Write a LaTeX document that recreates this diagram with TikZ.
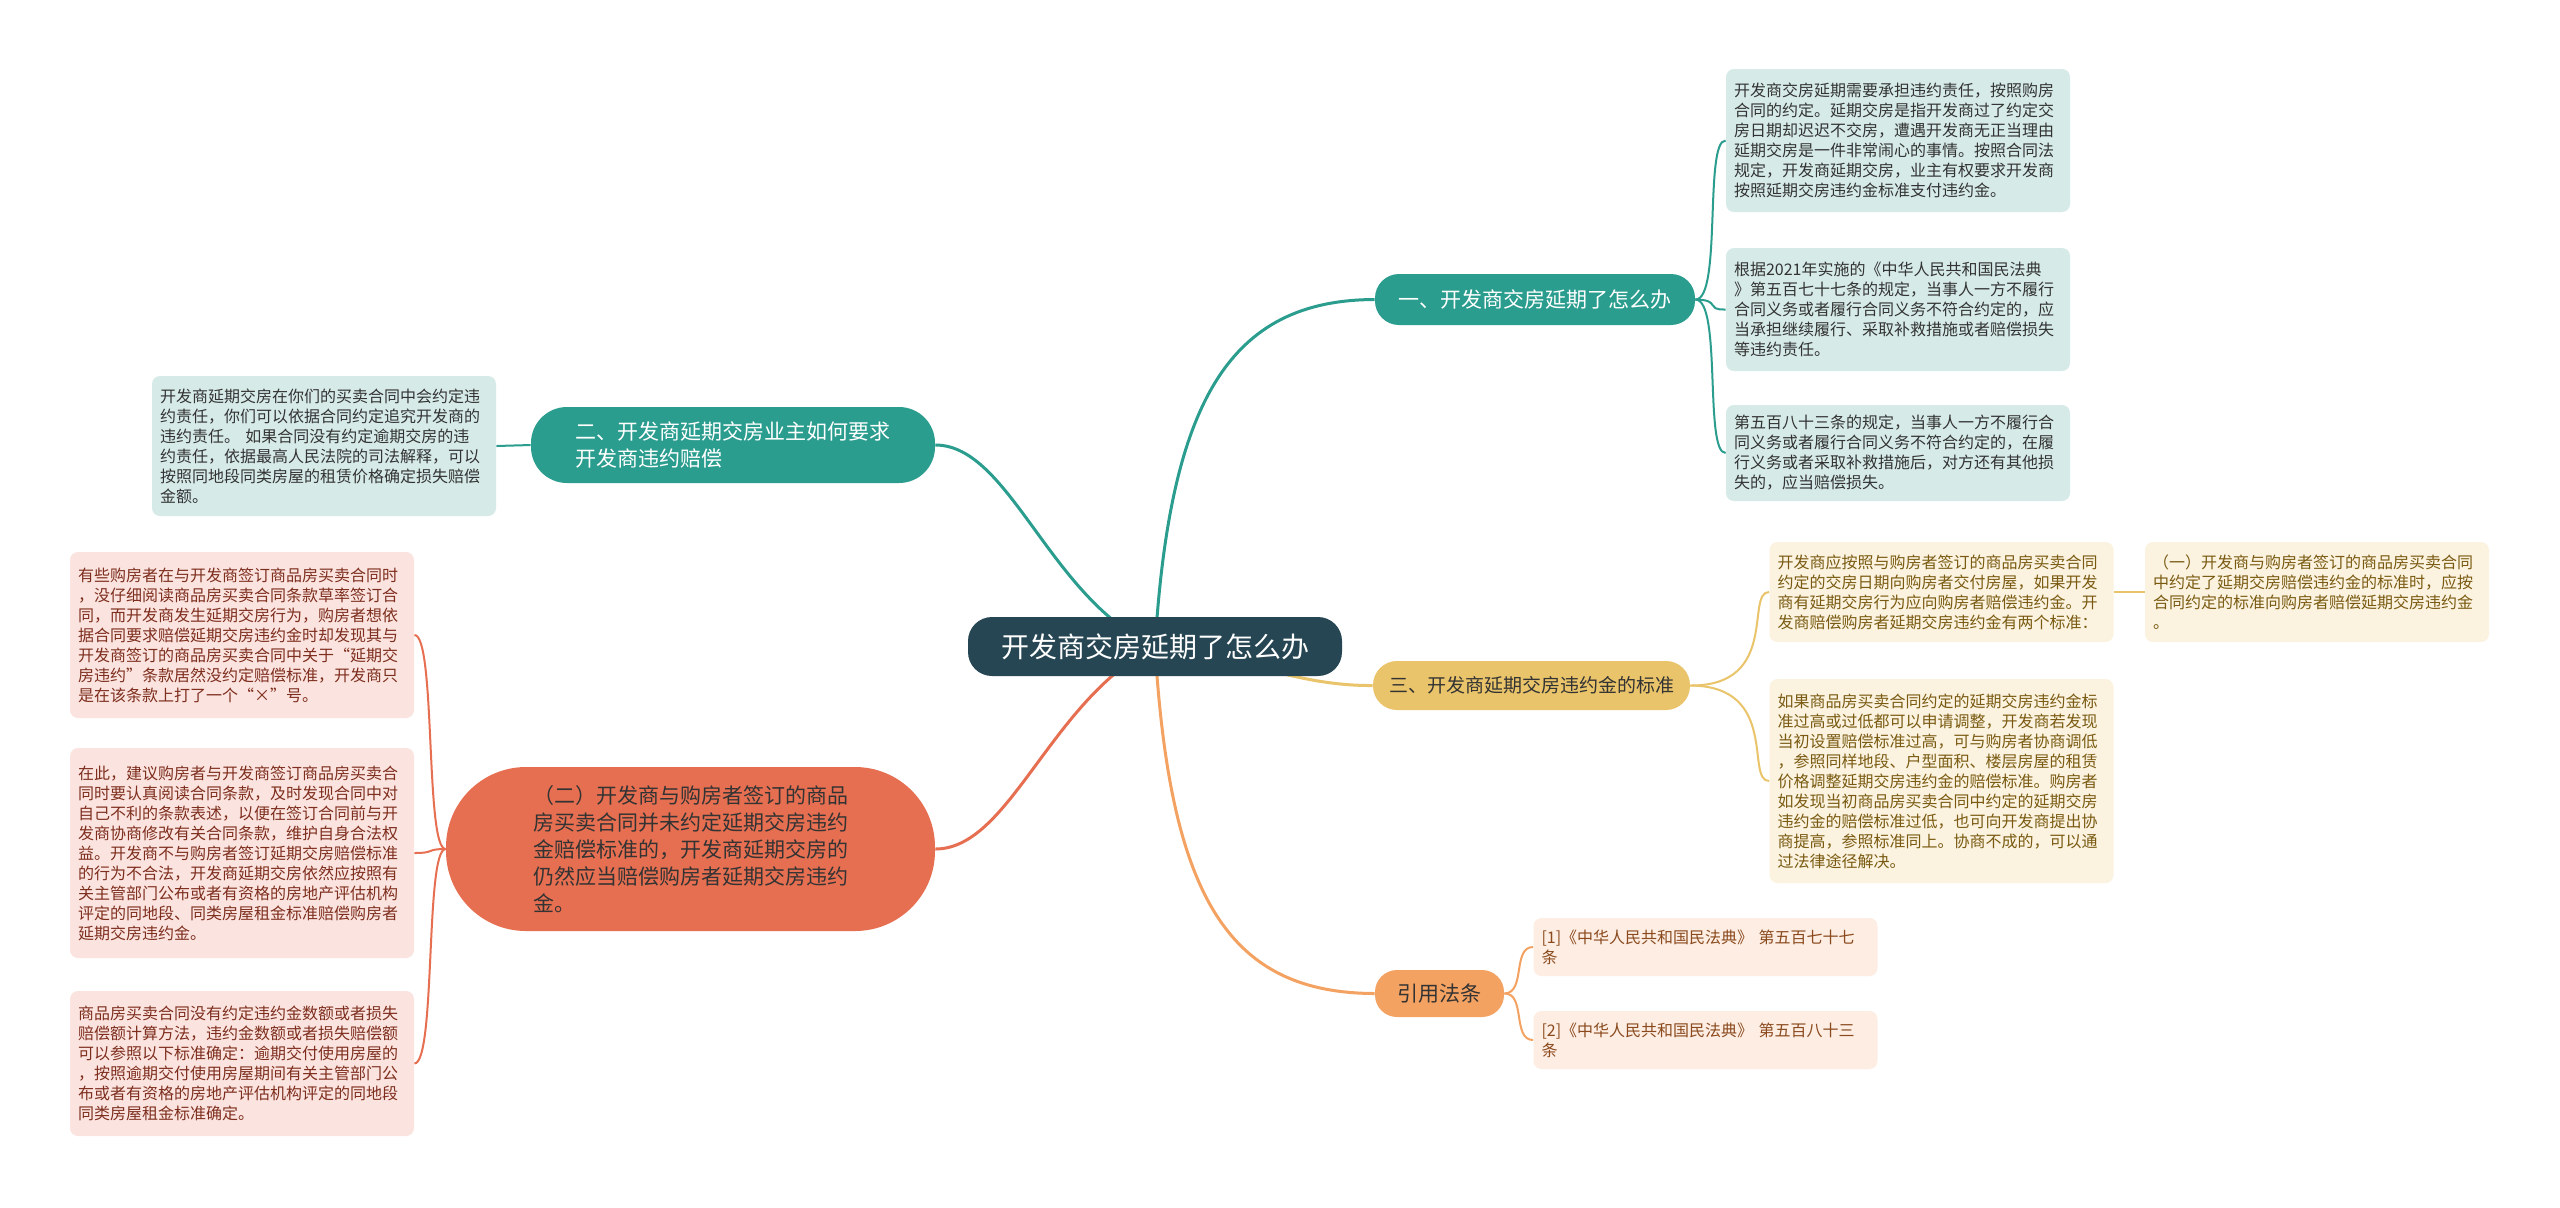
\documentclass[tikz,border=0pt]{standalone}
\usepackage{fontspec}
\newfontfamily\cjk{Noto Sans CJK SC}
\usetikzlibrary{backgrounds}

\definecolor{rootc}{HTML}{264653}
\definecolor{tealc}{HTML}{2A9D8F}
\definecolor{yellc}{HTML}{E9C46A}
\definecolor{orngc}{HTML}{F4A261}
\definecolor{redc}{HTML}{E76F51}
\definecolor{tealleaf}{HTML}{D6EBE8}
\definecolor{yellleaf}{HTML}{FBF3DF}
\definecolor{redleaf}{HTML}{FBE4DF}
\definecolor{orngleaf}{HTML}{FDEDE2}
\definecolor{darktext}{HTML}{333333}
\definecolor{yelltext}{HTML}{7A5A12}
\definecolor{redtext}{HTML}{7E2E1E}
\definecolor{orngtext}{HTML}{8A4A1E}

\tikzset{
  leafbox/.style={rounded corners=4pt, align=left, inner xsep=4pt, inner ysep=3pt,
    text width=164pt, font=\cjk\fontsize{8}{10}\selectfont},
  topic/.style={align=left, inner sep=0pt, font=\cjk\fontsize{10.5}{13.5}\selectfont},
  link/.style={line width=1.5pt},
  twig/.style={line width=1pt}
}

\begin{document}
\begin{tikzpicture}[x=0.5pt,y=-0.5pt]

\useasboundingbox (0,0) rectangle (2560,1207);

% centre
\node[fill=rootc, text=white, rounded corners=12pt, inner sep=0pt, minimum width=187pt, minimum height=29.5pt,
  font=\cjk\fontsize{14}{16}\selectfont] (root) at (1155,646.5) {开发商交房延期了怎么办};

% main topics
\node[topic, fill=tealc, text=white, rounded corners=12pt, minimum width=160pt, minimum height=25.5pt] (b1) at (1535,299.5) {一、开发商交房延期了怎么办};
\node[topic, fill=tealc, text=white, rounded corners=18pt, minimum width=202pt, minimum height=38pt] (b2) at (733,445) {二、开发商延期交房业主如何要求\\开发商违约赔偿};
\node[topic, fill=yellc, text=darktext, rounded corners=12pt, minimum width=158.5pt, minimum height=24.5pt,
  font=\cjk\fontsize{9.5}{12}\selectfont] (b3) at (1531.5,685.5) {三、开发商延期交房违约金的标准};
\node[topic, fill=redc, text=darktext, rounded corners=40pt, minimum width=244.5pt, minimum height=82pt] (b4) at (690.5,849)
  {（二）开发商与购房者签订的商品\\房买卖合同并未约定延期交房违约\\金赔偿标准的，开发商延期交房的\\仍然应当赔偿购房者延期交房违约\\金。};
\node[topic, fill=orngc, text=darktext, rounded corners=11pt, minimum width=64.5pt, minimum height=23.5pt, align=center] (b5) at (1439.5,993.5) {引用法条};

% leaves of b1
\node[leafbox, fill=tealleaf, text=darktext, minimum height=71.5pt] (c1) at (1898,140.5)
  {开发商交房延期需要承担违约责任，按照购房\\合同的约定。延期交房是指开发商过了约定交\\房日期却迟迟不交房，遭遇开发商无正当理由\\延期交房是一件非常闹心的事情。按照合同法\\规定，开发商延期交房，业主有权要求开发商\\按照延期交房违约金标准支付违约金。};
\node[leafbox, fill=tealleaf, text=darktext, minimum height=61.5pt] (c2) at (1898,309.5)
  {根据2021年实施的《中华人民共和国民法典\\》第五百七十七条的规定，当事人一方不履行\\合同义务或者履行合同义务不符合约定的，应\\当承担继续履行、采取补救措施或者赔偿损失\\等违约责任。};
\node[leafbox, fill=tealleaf, text=darktext, minimum height=48pt] (c3) at (1898,453)
  {第五百八十三条的规定，当事人一方不履行合\\同义务或者履行合同义务不符合约定的，在履\\行义务或者采取补救措施后，对方还有其他损\\失的，应当赔偿损失。};

% leaf of b2
\node[leafbox, fill=tealleaf, text=darktext, minimum height=70pt] (g1) at (324,446)
  {开发商延期交房在你们的买卖合同中会约定违\\约责任，你们可以依据合同约定追究开发商的\\违约责任。~如果合同没有约定逾期交房的违\\约责任，依据最高人民法院的司法解释，可以\\按照同地段同类房屋的租赁价格确定损失赔偿\\金额。};

% leaves of b3
\node[leafbox, fill=yellleaf, text=yelltext, minimum height=50pt] (y1) at (1941.5,592)
  {开发商应按照与购房者签订的商品房买卖合同\\约定的交房日期向购房者交付房屋，如果开发\\商有延期交房行为应向购房者赔偿违约金。开\\发商赔偿购房者延期交房违约金有两个标准：};
\node[leafbox, fill=yellleaf, text=yelltext, minimum height=50pt] (y1a) at (2317,592)
  {（一）开发商与购房者签订的商品房买卖合同\\中约定了延期交房赔偿违约金的标准时，应按\\合同约定的标准向购房者赔偿延期交房违约金\\。};
\node[leafbox, fill=yellleaf, text=yelltext, minimum height=102pt] (y2) at (1941.5,781)
  {如果商品房买卖合同约定的延期交房违约金标\\准过高或过低都可以申请调整，开发商若发现\\当初设置赔偿标准过高，可与购房者协商调低\\，参照同样地段、户型面积、楼层房屋的租赁\\价格调整延期交房违约金的赔偿标准。购房者\\如发现当初商品房买卖合同中约定的延期交房\\违约金的赔偿标准过低，也可向开发商提出协\\商提高，参照标准同上。协商不成的，可以通\\过法律途径解决。};

% leaves of b4
\node[leafbox, fill=redleaf, text=redtext, minimum height=83pt] (r1) at (242,635)
  {有些购房者在与开发商签订商品房买卖合同时\\，没仔细阅读商品房买卖合同条款草率签订合\\同，而开发商发生延期交房行为，购房者想依\\据合同要求赔偿延期交房违约金时却发现其与\\开发商签订的商品房买卖合同中关于“延期交\\房违约”条款居然没约定赔偿标准，开发商只\\是在该条款上打了一个“×”号。};
\node[leafbox, fill=redleaf, text=redtext, minimum height=105pt] (r2) at (242,853)
  {在此，建议购房者与开发商签订商品房买卖合\\同时要认真阅读合同条款，及时发现合同中对\\自己不利的条款表述，以便在签订合同前与开\\发商协商修改有关合同条款，维护自身合法权\\益。开发商不与购房者签订延期交房赔偿标准\\的行为不合法，开发商延期交房依然应按照有\\关主管部门公布或者有资格的房地产评估机构\\评定的同地段、同类房屋租金标准赔偿购房者\\延期交房违约金。};
\node[leafbox, fill=redleaf, text=redtext, minimum height=72.5pt] (r3) at (242,1063.5)
  {商品房买卖合同没有约定违约金数额或者损失\\赔偿额计算方法，违约金数额或者损失赔偿额\\可以参照以下标准确定：逾期交付使用房屋的\\，按照逾期交付使用房屋期间有关主管部门公\\布或者有资格的房地产评估机构评定的同地段\\同类房屋租金标准确定。};

% leaves of b5
\node[leafbox, fill=orngleaf, text=orngtext, minimum height=29pt] (o1) at (1705.5,947)
  {[1]《中华人民共和国民法典》~第五百七十七\\条};
\node[leafbox, fill=orngleaf, text=orngtext, minimum height=29pt] (o2) at (1705.5,1040)
  {[2]《中华人民共和国民法典》~第五百八十三\\条};

\begin{scope}[on background layer]
\fill[white] (0,0) rectangle (2560,1207);
% main links
\draw[link, tealc] (root.center) .. controls (1170,400) and (1230,300) .. (b1.west);
\draw[link, yellc] (root.center) .. controls (1250,660) and (1300,686) .. (b3.west);
\draw[link, orngc] (root.center) .. controls (1170,900) and (1230,993) .. (b5.west);
\draw[link, tealc] (root.center) .. controls (1050,600) and (1010,445) .. (b2.east);
\draw[link, redc] (root.center) .. controls (1050,700) and (1010,849) .. (b4.east);
% twigs
\draw[twig, tealc] (b1.east) .. controls (1722,300) and (1704,140) .. (c1.west);
\draw[twig, tealc] (b1.east) .. controls (1722,300) and (1704,310) .. (c2.west);
\draw[twig, tealc] (b1.east) .. controls (1722,300) and (1704,453) .. (c3.west);
\draw[twig, tealc] (b2.west) -- (g1.east);
\draw[twig, yellc] (b3.east) .. controls (1780,686) and (1745,592) .. (y1.west);
\draw[twig, yellc] (b3.east) .. controls (1780,686) and (1745,781) .. (y2.west);
\draw[twig, yellc] (y1.east) -- (y1a.west);
\draw[twig, redc] (b4.west) .. controls (425,849) and (436,635) .. (r1.east);
\draw[twig, redc] (b4.west) .. controls (425,849) and (436,853) .. (r2.east);
\draw[twig, redc] (b4.west) .. controls (425,849) and (436,1063) .. (r3.east);
\draw[twig, orngc] (b5.east) .. controls (1526,993) and (1512,947) .. (o1.west);
\draw[twig, orngc] (b5.east) .. controls (1526,993) and (1512,1040) .. (o2.west);
\end{scope}
\end{tikzpicture}
\end{document}
